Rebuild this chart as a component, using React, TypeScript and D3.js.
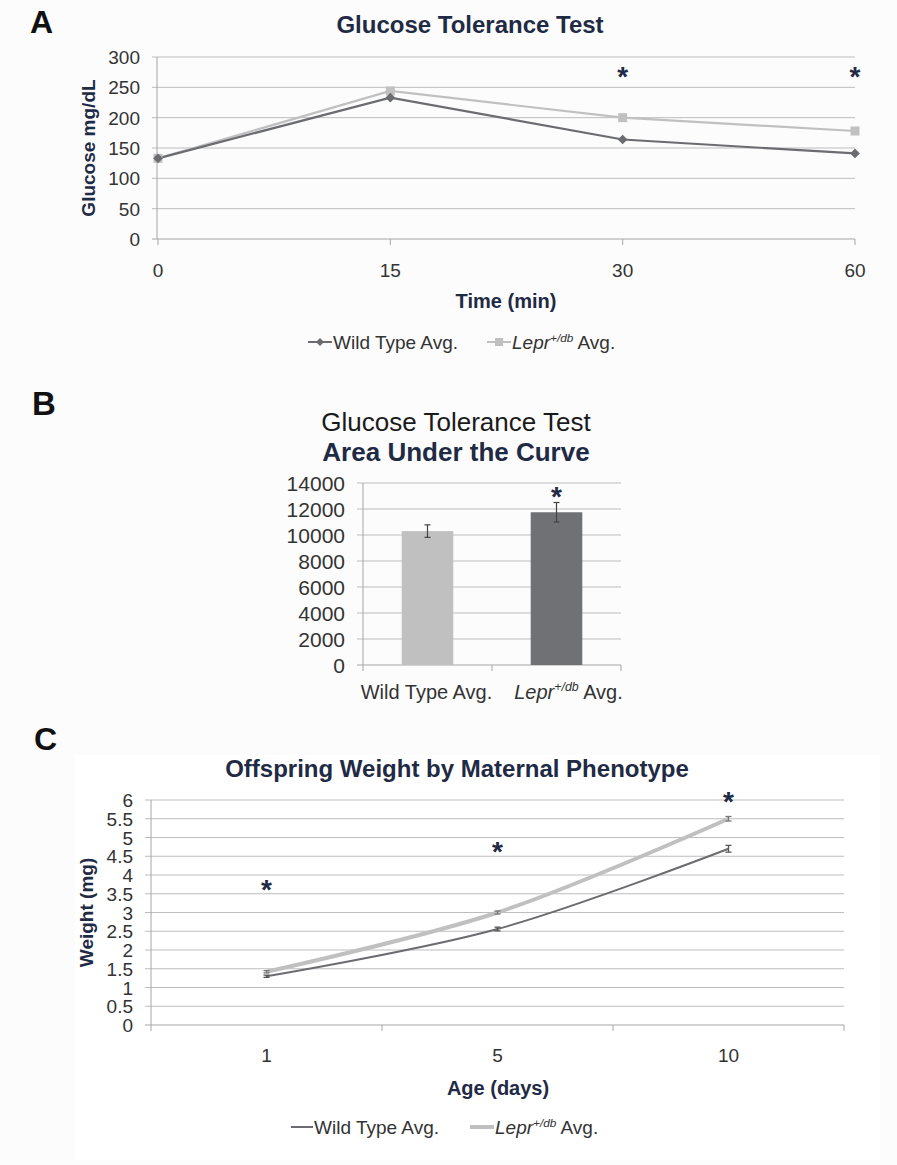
import React from "react";
import * as d3 from "d3";

// Panel A: glucose tolerance test (mg/dL)
const gttTimes = ["0", "15", "30", "60"];
const gttWildType = [133, 233, 164, 141];
const gttLepr = [133, 244, 200, 178];
const gttTicks = [0, 50, 100, 150, 200, 250, 300];
const gttStars = ["30", "60"];
const gttStarLevel = 273;

// Panel B: area under the curve
const aucGroups = ["Wild Type Avg.", "Lepr+/db Avg."];
const aucMeans = [10300, 11750];
const aucErrors = [480, 750];
const aucTicks = [0, 2000, 4000, 6000, 8000, 10000, 12000, 14000];
const aucStars = ["Lepr+/db Avg."];
const aucStarLevel = [13200];

// Panel C: offspring weight (mg)
const ageDays = ["1", "5", "10"];
const weightWildType = [1.3, 2.56, 4.7];
const weightWildTypeErr = [0.03, 0.05, 0.09];
const weightLepr = [1.42, 3.0, 5.5];
const weightLeprErr = [0.03, 0.04, 0.06];
const weightTicks = [0, 0.5, 1, 1.5, 2, 2.5, 3, 3.5, 4, 4.5, 5, 5.5, 6];
const weightStarLevel = [3.72, 4.72, 6.05];

const FONT = "'Liberation Sans', Arial, sans-serif";
const NAVY = "#1f2a44";
const GRID = "#bdbdbd";
const AXIS = "#a6a6a6";
const DARK = "#6b6c70";
const LIGHT = "#c0c0c0";
const TICK_TXT = "#333";

// label with the italic Lepr and superscript +/db
const Label = ({ text, x, y, size, anchor = "start" }: any) => {
  if (text.startsWith("Lepr")) {
    return (
      <text x={x} y={y} fontSize={size} textAnchor={anchor} fill={TICK_TXT} fontFamily={FONT}>
        <tspan fontStyle="italic">Lepr</tspan>
        <tspan fontStyle="italic" fontSize={size * 0.62} dy={-size * 0.38}>+/db</tspan>
        <tspan dy={size * 0.38}> Avg.</tspan>
      </text>
    );
  }
  return (
    <text x={x} y={y} fontSize={size} textAnchor={anchor} fill={TICK_TXT} fontFamily={FONT}>
      {text}
    </text>
  );
};

const Star = ({ x, y }: { x: number; y: number }) => (
  <text x={x} y={y + 13} fontSize={28} fontWeight="bold" textAnchor="middle" fill={NAVY} fontFamily={FONT}>
    *
  </text>
);

const PanelA = () => {
  const x = d3.scalePoint().domain(gttTimes).range([158, 855]);
  const y = d3.scaleLinear().domain([0, 300]).range([239, 57]);
  const left = 157;
  const right = 855;
  const line = d3
    .line<number>()
    .x((_, i) => x(gttTimes[i]) as number)
    .y((d) => y(d));
  return (
    <g>
      <text x={30} y={33} fontSize={32} fontWeight="bold" fontFamily={FONT} fill="#111">A</text>
      <text x={470} y={33} fontSize={24} fontWeight="bold" textAnchor="middle" fill={NAVY} fontFamily={FONT}>
        Glucose Tolerance Test
      </text>
      {gttTicks.map((t) => (
        <g key={t}>
          <line x1={left - 5} x2={right} y1={y(t)} y2={y(t)} stroke={t === 0 ? AXIS : GRID} strokeWidth={1} />
          <text x={140} y={y(t) + 7} fontSize={19} textAnchor="end" fill={TICK_TXT} fontFamily={FONT}>{t}</text>
        </g>
      ))}
      <line x1={left} x2={left} y1={y(300)} y2={y(0)} stroke={AXIS} />
      {gttTimes.map((t) => (
        <g key={t}>
          <line x1={x(t)} x2={x(t)} y1={y(0)} y2={y(0) + 6} stroke={AXIS} />
          <text x={x(t)} y={277} fontSize={19} textAnchor="middle" fill={TICK_TXT} fontFamily={FONT}>{t}</text>
        </g>
      ))}
      <text
        transform={`translate(95,${(y(0) + y(300)) / 2}) rotate(-90)`}
        fontSize={19}
        fontWeight="bold"
        textAnchor="middle"
        fill={NAVY}
        fontFamily={FONT}
      >
        Glucose mg/dL
      </text>
      <text x={506} y={308} fontSize={20} fontWeight="bold" textAnchor="middle" fill={NAVY} fontFamily={FONT}>
        Time (min)
      </text>
      <path d={line(gttLepr) as string} fill="none" stroke={LIGHT} strokeWidth={2.2} />
      <path d={line(gttWildType) as string} fill="none" stroke={DARK} strokeWidth={2.2} />
      {gttLepr.map((v, i) => (
        <rect key={i} x={(x(gttTimes[i]) as number) - 4.5} y={y(v) - 4.5} width={9} height={9} fill={LIGHT} />
      ))}
      {gttWildType.map((v, i) => (
        <path
          key={i}
          d={d3.symbol(d3.symbolDiamond2, 60)() as string}
          transform={`translate(${x(gttTimes[i])},${y(v)})`}
          fill={DARK}
        />
      ))}
      {gttStars.map((t) => (
        <Star key={t} x={x(t) as number} y={y(gttStarLevel)} />
      ))}
      {/* legend */}
      <line x1={308} x2={332} y1={342} y2={342} stroke={DARK} strokeWidth={2} />
      <path d={d3.symbol(d3.symbolDiamond2, 40)() as string} transform="translate(320,342)" fill={DARK} />
      <Label text="Wild Type Avg." x={333} y={349} size={19} />
      <line x1={487} x2={511} y1={342} y2={342} stroke={LIGHT} strokeWidth={2} />
      <rect x={495} y={338} width={8} height={8} fill={LIGHT} />
      <Label text="Lepr+/db Avg." x={512} y={349} size={19} />
    </g>
  );
};

const PanelB = () => {
  const x = d3.scaleBand().domain(aucGroups).range([363, 621]).paddingInner(0.6).paddingOuter(0.3);
  const y = d3.scaleLinear().domain([0, 14000]).range([665, 483]);
  const left = 363;
  const right = 621;
  const step = x.step();
  return (
    <g>
      <text x={32} y={415} fontSize={33} fontWeight="bold" fontFamily={FONT} fill="#111">B</text>
      <text x={456} y={431} fontSize={26} textAnchor="middle" fill="#1a1a1a" fontFamily={FONT}>
        Glucose Tolerance Test
      </text>
      <text x={456} y={461} fontSize={26} fontWeight="bold" textAnchor="middle" fill={NAVY} fontFamily={FONT}>
        Area Under the Curve
      </text>
      {aucTicks.map((t) => (
        <g key={t}>
          <line x1={left - 6} x2={right} y1={y(t)} y2={y(t)} stroke={t === 0 ? AXIS : GRID} />
          <text x={345} y={y(t) + 7.5} fontSize={21} textAnchor="end" fill={TICK_TXT} fontFamily={FONT}>{t}</text>
        </g>
      ))}
      <line x1={left} x2={left} y1={y(14000)} y2={y(0)} stroke={AXIS} />
      {[0, 1, 2].map((i) => (
        <line key={i} x1={left + i * step} x2={left + i * step} y1={y(0)} y2={y(0) + 6} stroke={AXIS} />
      ))}
      {aucGroups.map((g, i) => {
        const cx = (x(g) as number) + x.bandwidth() / 2;
        return (
          <g key={g}>
            <rect x={x(g)} y={y(aucMeans[i])} width={x.bandwidth()} height={y(0) - y(aucMeans[i])} fill={i === 0 ? LIGHT : "#6f7175"} />
            <line x1={cx} x2={cx} y1={y(aucMeans[i] + aucErrors[i])} y2={y(aucMeans[i] - aucErrors[i])} stroke="#444" strokeWidth={1.2} />
            <line x1={cx - 3} x2={cx + 3} y1={y(aucMeans[i] + aucErrors[i])} y2={y(aucMeans[i] + aucErrors[i])} stroke="#444" strokeWidth={1.2} />
            <line x1={cx - 3} x2={cx + 3} y1={y(aucMeans[i] - aucErrors[i])} y2={y(aucMeans[i] - aucErrors[i])} stroke="#444" strokeWidth={1.2} />
            <Label text={g} x={i === 0 ? cx - 1 : cx + 12} y={699} size={20} anchor="middle" />
          </g>
        );
      })}
      {aucStars.map((g, i) => (
        <Star key={g} x={(x(g) as number) + x.bandwidth() / 2} y={y(aucStarLevel[i])} />
      ))}
    </g>
  );
};

const PanelC = () => {
  const x = d3.scaleBand().domain(ageDays).range([151, 844]);
  const y = d3.scaleLinear().domain([0, 6]).range([1025, 800]);
  const left = 151;
  const right = 844;
  const cx = (d: string) => (x(d) as number) + x.bandwidth() / 2;
  const line = d3
    .line<number>()
    .x((_, i) => cx(ageDays[i]))
    .y((d) => y(d))
    .curve(d3.curveCatmullRom.alpha(0.5));
  const errBars = (vals: number[], errs: number[], color: string) =>
    vals.map((v, i) => {
      const px = cx(ageDays[i]);
      return (
        <g key={i} stroke={color} strokeWidth={1.3}>
          <line x1={px} x2={px} y1={y(v + errs[i])} y2={y(v - errs[i])} />
          <line x1={px - 3} x2={px + 3} y1={y(v + errs[i])} y2={y(v + errs[i])} />
          <line x1={px - 3} x2={px + 3} y1={y(v - errs[i])} y2={y(v - errs[i])} />
        </g>
      );
    });
  return (
    <g>
      <text x={34} y={750} fontSize={32} fontWeight="bold" fontFamily={FONT} fill="#111">C</text>
      <text x={457} y={777} fontSize={24} fontWeight="bold" textAnchor="middle" fill={NAVY} fontFamily={FONT}>
        Offspring Weight by Maternal Phenotype
      </text>
      {weightTicks.map((t) => (
        <g key={t}>
          <line x1={left - 6} x2={right} y1={y(t)} y2={y(t)} stroke={t === 0 ? AXIS : GRID} />
          <text x={133} y={y(t) + 7} fontSize={19} textAnchor="end" fill={TICK_TXT} fontFamily={FONT}>{String(t)}</text>
        </g>
      ))}
      <line x1={left} x2={left} y1={y(6)} y2={y(0)} stroke={AXIS} />
      {[0, 1, 2, 3].map((i) => (
        <line key={i} x1={left + i * x.step()} x2={left + i * x.step()} y1={y(0)} y2={y(0) + 6} stroke={AXIS} />
      ))}
      {ageDays.map((d) => (
        <text key={d} x={cx(d)} y={1062} fontSize={19} textAnchor="middle" fill={TICK_TXT} fontFamily={FONT}>{d}</text>
      ))}
      <text
        transform={`translate(93,${(y(0) + y(6)) / 2}) rotate(-90)`}
        fontSize={19}
        fontWeight="bold"
        textAnchor="middle"
        fill={NAVY}
        fontFamily={FONT}
      >
        Weight (mg)
      </text>
      <text x={498} y={1095} fontSize={20} fontWeight="bold" textAnchor="middle" fill={NAVY} fontFamily={FONT}>
        Age (days)
      </text>
      <path d={line(weightLepr) as string} fill="none" stroke={LIGHT} strokeWidth={4} />
      <path d={line(weightWildType) as string} fill="none" stroke={DARK} strokeWidth={2} />
      {errBars(weightLepr, weightLeprErr, "#777")}
      {errBars(weightWildType, weightWildTypeErr, "#555")}
      {ageDays.map((d, i) => (
        <Star key={d} x={cx(d)} y={y(weightStarLevel[i])} />
      ))}
      {/* legend */}
      <line x1={291} x2={313} y1={1127} y2={1127} stroke={DARK} strokeWidth={2} />
      <Label text="Wild Type Avg." x={314} y={1134} size={19} />
      <line x1={470} x2={494} y1={1127} y2={1127} stroke={LIGHT} strokeWidth={4} />
      <Label text="Lepr+/db Avg." x={495} y={1134} size={19} />
    </g>
  );
};

export default function App() {
  return (
    <svg
      width={897}
      height={1165}
      style={{ position: "absolute", left: 0, top: 0, background: "#fff" }}
    >
      <rect width={897} height={1165} fill="#fcfcfc" />
      <rect x={75} y={755} width={805} height={405} fill="#fff" />
      <PanelA />
      <PanelB />
      <PanelC />
    </svg>
  );
}
